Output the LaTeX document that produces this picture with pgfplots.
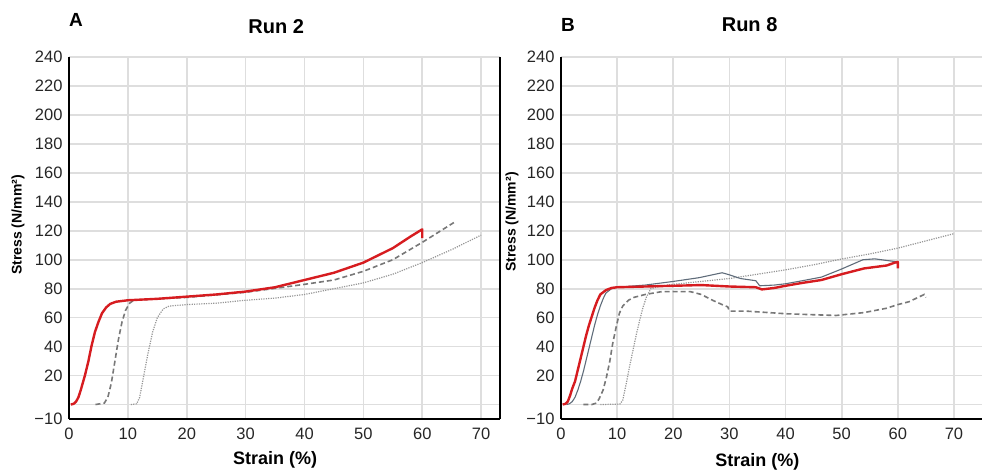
\documentclass[border=0pt]{standalone}
\usepackage{fontspec}
\setmainfont{Liberation Sans}
\usepackage{pgfplots}
\pgfplotsset{compat=1.18}
\definecolor{redc}{RGB}{214,28,32}
\definecolor{dashc}{RGB}{120,120,120}
\definecolor{dotc}{RGB}{150,150,150}
\definecolor{solc}{RGB}{95,108,122}
\pgfplotsset{
  panel/.style={
    scale only axis,
    height=362pt,
    ymin=-10, ymax=240, xmin=0,
    axis line style={line width=1.8pt, black, -},
    ytick={-10,0,20,40,60,80,100,120,140,160,180,200,220,240},
    yticklabels={−10,,20,40,60,80,100,120,140,160,180,200,220,240},
    xtick={0,10,...,70},
    grid=major,
    major grid style={line width=1.7pt, color=black!13},
    major tick length=0pt,
    tick label style={font=\fontsize{16.5}{19}\selectfont, text=black!85},
    yticklabel style={xshift=-3pt},
    xticklabel style={yshift=-5pt},
    /pgf/number format/assume math mode=true,
    label style={font=\bfseries},
    title style={font=\bfseries\fontsize{20}{24}\selectfont},
  },
  redl/.style={color=redc, line width=2.4pt, line join=round},
  dashl/.style={color=dashc, line width=1.6pt, dash pattern=on 5pt off 3pt},
  dotl/.style={color=dotc, line width=1.2pt, dash pattern=on 1.2pt off 1.2pt},
  soll/.style={color=solc, line width=1.1pt},
}
\begin{document}
\begin{tikzpicture}
\useasboundingbox (0,0) rectangle (982pt,472pt);
% ---------------- Panel A ----------------
\begin{axis}[panel,
  at={(69pt,53pt)}, anchor=south west,
  width=431pt, xmax=73.2,
  axis x line*=bottom, axis y line*=box,
  title={Run 2},
  title style={at={(axis cs:35.2,240)}, anchor=center, yshift=24pt},
  xlabel={Strain (\%)},
  xlabel style={at={(axis cs:35,-10)}, anchor=center, yshift=-41pt, font=\bfseries\fontsize{18}{21}\selectfont},
  ylabel={Stress (N/mm²)},
  ylabel style={at={(axis description cs:-0.1183,0.536)}, anchor=center, font=\bfseries\fontsize{14}{17}\selectfont},
]
\addplot[dotl] coordinates {(10.5,0) (11.5,0.5) (12,5) (12.7,20) (13.4,35) (14.2,50) (15,60) (16,66) (17,68) (20,69) (25,70) (30,72) (35,73.5) (40,76) (45,80) (50,84) (55,90) (60,98) (65,107) (70,117)};
\addplot[dashl] coordinates {(4.5,0) (6,1) (6.6,5) (7.2,15) (7.8,30) (8.4,45) (9,57) (9.6,65) (10.3,70) (11,72) (15,73) (20,74) (30,77.5) (40,83) (45,86) (50,92) (55,100) (60,112) (65.5,126)};
\addplot[redl] coordinates {(0.3,0) (0.8,0.5) (1.2,2) (1.6,5) (2,10) (2.7,20) (3.3,30) (3.8,40) (4.4,50) (5,57) (5.6,63) (6.3,67) (7,69.5) (8,71) (10,72) (15,73) (20,74.5) (25,76) (30,78) (35,81) (40,86) (45,91) (50,98) (55,108) (58,116) (60,121) (60,115)};
\end{axis}
\node[font=\bfseries\fontsize{19}{22}\selectfont] at (76pt,452pt) {A};
% ---------------- Panel B ----------------
\begin{axis}[panel,
  at={(561pt,53pt)}, anchor=south west,
  width=421pt, xmax=75,
  axis x line*=bottom, axis y line*=left,
  title={Run 8},
  title style={at={(axis cs:33.6,240)}, anchor=center, yshift=26pt},
  xlabel={Strain (\%)},
  xlabel style={at={(axis cs:35,-10)}, anchor=center, yshift=-43pt, font=\bfseries\fontsize{18}{21}\selectfont},
  ylabel={Stress (N/mm²)},
  ylabel style={at={(axis description cs:-0.1164,0.544)}, anchor=center, font=\bfseries\fontsize{14}{17}\selectfont},
]
\addplot[dotl] coordinates {(7,0) (10.5,0.3) (11,3) (11.6,14) (12.2,26) (12.8,37) (13.4,48) (14,58) (14.6,67) (15.2,74) (16,80) (18,82) (20,83) (25,85) (30,87) (35,90) (40,93) (45,96.5) (50,100.5) (55,104) (60,108) (65,113) (70,118)};
\addplot[dashl] coordinates {(4,0) (5.5,0) (6.3,1) (6.8,4) (7.5,10) (8.1,19) (8.7,30) (9.2,42) (9.8,53) (10.4,63) (11,68) (12,72) (13,74) (15,76) (18,78) (23,78) (25,76) (27,72) (29,68.5) (29.7,67.5) (30,64.5) (33,64.5) (35,64) (40,62.7) (45,62) (49,61.5) (54,63.5) (58,66.5) (60,69) (62,71) (64.7,76) (65,74)};
\addplot[soll] coordinates {(1,0) (1.5,0.5) (2,2) (2.5,5) (3,10) (3.5,16) (4,23) (4.5,31) (5,39) (5.5,47) (6,55) (6.5,62) (7,68) (7.5,73) (8,77) (9,80) (10,81) (15,82.5) (20,85) (24.6,87.6) (28.7,91) (29.9,89.7) (32,87) (34.7,85.5) (35.4,82) (38,82.5) (40,83.4) (43,85.5) (46.4,88) (50,93.6) (53.8,100) (55.9,100.6) (58,99.5) (60,98.5) (60,96)};
\addplot[redl] coordinates {(0.3,0) (0.8,0.5) (1.2,2) (1.6,6) (2,11) (2.5,16) (3,24) (3.5,32) (4,40) (4.5,48) (5,55) (5.5,61) (6,67) (6.5,72) (7,76) (8,79) (9,80.5) (10,81) (15,81.5) (20,82) (25,82.5) (30,81.5) (34.7,81) (35.8,79.5) (38,80.5) (40,82) (43,84) (46.4,86) (50,90) (54,94) (56,95) (58,96) (59.5,98) (60,98.5) (60,94)};
\end{axis}
\node[font=\bfseries\fontsize{19}{22}\selectfont] at (568pt,447pt) {B};
\end{tikzpicture}
\end{document}
